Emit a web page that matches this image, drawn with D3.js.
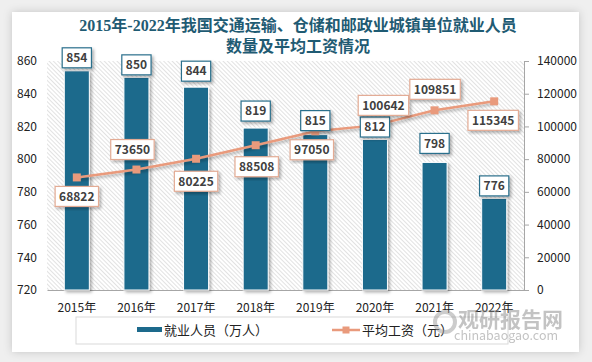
<!DOCTYPE html>
<html>
<head>
<meta charset="utf-8" />
<title>交通运输、仓储和邮政业就业人员及平均工资</title>
<style>
body { margin: 0; background: #efefef; }
svg { display: block; }
text { font-family: "Noto Sans CJK SC", "Noto Sans", sans-serif; }
.title { font-family: "Liberation Serif", "Noto Sans CJK SC", serif; font-weight: bold; font-size: 16px; fill: #1f5b73; }
.axis text { font-size: 12px; fill: #222; }
.axis .domain { stroke: #a6a6a6; }
.axis line { stroke: #a6a6a6; }
.lbl { font-size: 12px; font-weight: bold; fill: #404040; }
</style>
</head>
<body>
<script src="https://cdn.jsdelivr.net/npm/d3@7/dist/d3.min.js"></script>
<script>
var years = ["2015年", "2016年", "2017年", "2018年", "2019年", "2020年", "2021年", "2022年"];
var workers = [854, 850, 844, 819, 815, 812, 798, 776];
var wages = [68822, 73650, 80225, 88508, 97050, 100642, 109851, 115345];
var leftTicks = [720, 740, 760, 780, 800, 820, 840, 860];
var rightTicks = [0, 20000, 40000, 60000, 80000, 100000, 120000, 140000];

// label nudges, as placed in the original
var barLabelDy = [-13, -12.5, -16, -17, -14, -12.5, -19, -12.5];
var wageLabelDx = [0, -4, 0, 1, -3.5, 8.5, 0.5, -1];
var wageLabelDy = [19, -20, 22.5, 21.5, 18.5, -20, -21, 19];

var width = 592, height = 362;
var barColor = "#1d6a8c", lineColor = "#e99a7c";

var svg = d3.select("body").append("svg")
    .attr("width", width)
    .attr("height", height);

var defs = svg.append("defs");
var shadow = defs.append("filter").attr("id", "shadow")
    .attr("x", "-20%").attr("y", "-20%").attr("width", "140%").attr("height", "140%");
shadow.append("feDropShadow").attr("dx", 2).attr("dy", 2).attr("stdDeviation", 1.5)
    .attr("flood-color", "#000").attr("flood-opacity", 0.3);
var cardShadow = defs.append("filter").attr("id", "cardShadow")
    .attr("x", "-5%").attr("y", "-5%").attr("width", "110%").attr("height", "110%");
cardShadow.append("feDropShadow").attr("dx", 0).attr("dy", 0).attr("stdDeviation", 4)
    .attr("flood-color", "#000").attr("flood-opacity", 0.18);

var hatch = defs.append("pattern").attr("id", "hatch")
    .attr("patternUnits", "userSpaceOnUse")
    .attr("width", 3).attr("height", 3)
    .attr("patternTransform", "rotate(-45)");
hatch.append("rect").attr("width", 3).attr("height", 3).attr("fill", "#fff");
hatch.append("line").attr("x1", 0).attr("y1", 0).attr("x2", 0).attr("y2", 3)
    .attr("stroke", "#cfcfcf").attr("stroke-width", 1.2);

// card
svg.append("rect")
    .attr("x", 12).attr("y", 12).attr("width", 567).attr("height", 340)
    .attr("fill", "#fff")
    .attr("filter", "url(#cardShadow)");

var plotLeft = 47, plotRight = 524, plotTop = 61, plotBottom = 290;

var x = d3.scaleBand().domain(years)
    .range([plotLeft, plotRight])
    .paddingInner(0.58).paddingOuter(0.29);
var yL = d3.scaleLinear().domain([720, 860]).range([plotBottom, plotTop]);
var yR = d3.scaleLinear().domain([0, 140000]).range([plotBottom, plotTop]);

svg.append("rect")
    .attr("x", plotLeft).attr("y", plotTop)
    .attr("width", plotRight - plotLeft).attr("height", plotBottom - plotTop)
    .attr("fill", "url(#hatch)");

// title
svg.append("text").attr("class", "title")
    .attr("x", 298).attr("y", 31).attr("text-anchor", "middle")
    .text("2015年-2022年我国交通运输、仓储和邮政业城镇单位就业人员");
svg.append("text").attr("class", "title")
    .attr("x", 298).attr("y", 52).attr("text-anchor", "middle")
    .text("数量及平均工资情况");

// axes
var axL = svg.append("g").attr("class", "axis")
    .attr("transform", "translate(" + plotLeft + ",0)")
    .call(d3.axisLeft(yL).tickValues(leftTicks).tickSize(0).tickPadding(10));
axL.select(".domain").remove();

svg.append("g").attr("class", "axis")
    .attr("transform", "translate(" + plotRight + ",0)")
    .call(d3.axisRight(yR).tickValues(rightTicks).tickFormat(d3.format("d"))
        .tickSize(5).tickSizeOuter(0).tickPadding(8));

var axB = svg.append("g").attr("class", "axis")
    .attr("transform", "translate(0," + plotBottom + ")")
    .call(d3.axisBottom(x).tickSize(0).tickSizeOuter(0).tickPadding(13));

// bars
svg.append("g").selectAll("rect")
    .data(workers)
  .enter().append("rect")
    .attr("x", function(d, i) { return x(years[i]); })
    .attr("y", function(d) { return yL(d); })
    .attr("width", x.bandwidth())
    .attr("height", function(d) { return plotBottom - yL(d); })
    .attr("fill", barColor)
    .attr("stroke", "#fff")
    .attr("stroke-width", 1)
    .attr("filter", "url(#shadow)");

// line
var line = d3.line()
    .x(function(d, i) { return x(years[i]) + x.bandwidth() / 2; })
    .y(function(d) { return yR(d); });

svg.append("path")
    .datum(wages)
    .attr("d", line)
    .attr("fill", "none")
    .attr("stroke", lineColor)
    .attr("stroke-width", 2.5)
    .attr("filter", "url(#shadow)");

svg.append("g").selectAll("rect")
    .data(wages)
  .enter().append("rect")
    .attr("x", function(d, i) { return x(years[i]) + x.bandwidth() / 2 - 4; })
    .attr("y", function(d) { return yR(d) - 4; })
    .attr("width", 8).attr("height", 8)
    .attr("fill", lineColor);

function addLabel(g, cx, cy, txt, stroke) {
    var t = g.append("text").attr("class", "lbl")
        .attr("x", cx).attr("y", cy).attr("dy", "0.36em")
        .attr("text-anchor", "middle").text(txt);
    var w = t.node().getComputedTextLength() + 8;
    g.insert("rect", "text")
        .attr("x", cx - w / 2).attr("y", cy - 10)
        .attr("width", w).attr("height", 20)
        .attr("fill", "#fff")
        .attr("stroke", stroke)
        .attr("stroke-width", 1.2)
        .attr("filter", "url(#shadow)");
}

workers.forEach(function(d, i) {
    var g = svg.append("g");
    addLabel(g, x(years[i]) + x.bandwidth() / 2, yL(d) + barLabelDy[i], d, "#2a6f8c");
});

wages.forEach(function(d, i) {
    var g = svg.append("g");
    addLabel(g, x(years[i]) + x.bandwidth() / 2 + wageLabelDx[i], yR(d) + wageLabelDy[i], d, "#e3ab94");
});

// legend
svg.append("rect")
    .attr("x", 76).attr("y", 317).attr("width", 432).attr("height", 27)
    .attr("fill", "#fff").attr("stroke", "#d9d9d9");
svg.append("rect")
    .attr("x", 137).attr("y", 327).attr("width", 25).attr("height", 5)
    .attr("fill", barColor);
svg.append("text").attr("x", 164).attr("y", 330).attr("dy", "0.36em")
    .style("font-size", "13px").attr("fill", "#222")
    .text("就业人员（万人）");
svg.append("line")
    .attr("x1", 332).attr("x2", 360).attr("y1", 330).attr("y2", 330)
    .attr("stroke", lineColor).attr("stroke-width", 2.5);
svg.append("rect")
    .attr("x", 342.5).attr("y", 326.5).attr("width", 7).attr("height", 7)
    .attr("fill", lineColor);
svg.append("text").attr("x", 362).attr("y", 330).attr("dy", "0.36em")
    .style("font-size", "13px").attr("fill", "#222")
    .text("平均工资（元）");

// watermark
var wm = svg.append("g").attr("opacity", 0.5);
wm.append("circle").attr("cx", 445).attr("cy", 322).attr("r", 10)
    .attr("fill", "none").attr("stroke", "#9a9a9a").attr("stroke-width", 4);
wm.append("text").attr("x", 458).attr("y", 327)
    .style("font-size", "21px").style("font-weight", "bold").attr("fill", "#888")
    .text("观研报告网");
wm.append("text").attr("x", 454).attr("y", 340)
    .style("font-size", "12.5px").attr("fill", "#888")
    .text("chinabaogao.com");
</script>
</body>
</html>
